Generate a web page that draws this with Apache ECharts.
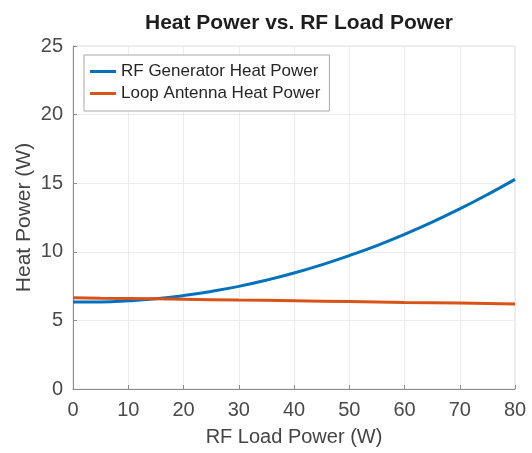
<!DOCTYPE html>
<html>
<head>
<meta charset="utf-8">
<script src="https://cdn.jsdelivr.net/npm/echarts@6/dist/echarts.min.js"></script>
<style>
  html, body { margin: 0; padding: 0; background: #fff; }
  #chart { width: 532px; height: 453px; }
</style>
</head>
<body>
<div id="chart"></div>
<script>
// RF load power (W)
const loadPower = [0, 5, 10, 15, 20, 25, 30, 35, 40, 45, 50, 55, 60, 65, 70, 75, 80];
// Heat dissipated in the RF generator (W)
const generatorHeat = [6.35, 6.35, 6.43, 6.58, 6.81, 7.11, 7.48, 7.93, 8.45, 9.05, 9.72, 10.45, 11.27, 12.16, 13.13, 14.17, 15.28];
// Heat dissipated in the loop antenna (W)
const antennaHeat = [6.65, 6.62, 6.6, 6.57, 6.54, 6.51, 6.48, 6.46, 6.43, 6.4, 6.37, 6.34, 6.31, 6.29, 6.26, 6.23, 6.2];

const seriesNames = ['RF Generator Heat Power', 'Loop Antenna Heat Power'];
const seriesColors = ['#0072BD', '#D95319'];

const pairs = (xs, ys) => xs.map((x, i) => [x, ys[i]]);

const font = 'Liberation Sans, Arial, Helvetica, sans-serif';
const chart = echarts.init(document.getElementById('chart'), null, { renderer: 'canvas' });

chart.setOption({
  animation: false,
  backgroundColor: '#ffffff',
  title: {
    text: 'Heat Power vs. RF Load Power',
    left: 294,
    textAlign: 'center',
    top: 8,
    textStyle: { fontFamily: font, fontSize: 21, fontWeight: 'bold', color: '#1e1e1e' }
  },
  grid: {
    left: 73, right: 17, top: 46, bottom: 64,
    show: true, borderColor: '#dcdcdc', borderWidth: 1, backgroundColor: 'transparent'
  },
  legend: {
    orient: 'vertical',
    left: 84, top: 55,
    backgroundColor: '#ffffff',
    borderColor: '#a8a8a8', borderWidth: 1,
    padding: [8, 9, 9, 6],
    itemGap: 5,
    itemWidth: 26, itemHeight: 3,
    icon: 'rect',
    textStyle: { fontFamily: font, fontSize: 17, color: '#262626' },
    data: seriesNames
  },
  xAxis: {
    type: 'value',
    min: 0, max: 80, interval: 10,
    name: 'RF Load Power (W)',
    nameLocation: 'middle',
    nameGap: 38,
    nameTextStyle: { fontFamily: font, fontSize: 20, color: '#444' },
    axisLine: { show: true, lineStyle: { color: '#8c8c8c', width: 1 } },
    axisTick: { show: true, inside: true, length: 4, lineStyle: { color: '#8c8c8c' } },
    axisLabel: { fontFamily: font, fontSize: 20, color: '#4a4a4a', margin: 11 },
    splitLine: { show: true, lineStyle: { color: '#ececec', width: 1 } }
  },
  yAxis: {
    type: 'value',
    min: 0, max: 25, interval: 5,
    name: 'Heat Power (W)',
    nameLocation: 'middle',
    nameGap: 38,
    nameMoveOverlap: false,
    nameTextStyle: { fontFamily: font, fontSize: 21, color: '#444' },
    axisLine: { show: true, lineStyle: { color: '#8c8c8c', width: 1 } },
    axisTick: { show: true, inside: true, length: 4, lineStyle: { color: '#8c8c8c' } },
    axisLabel: { fontFamily: font, fontSize: 20, color: '#4a4a4a', margin: 10 },
    splitLine: { show: true, lineStyle: { color: '#ececec', width: 1 } }
  },
  series: [
    {
      name: seriesNames[0],
      type: 'line',
      data: pairs(loadPower, generatorHeat),
      smooth: true,
      showSymbol: false,
      color: seriesColors[0],
      lineStyle: { width: 3, color: seriesColors[0] },
      z: 3
    },
    {
      name: seriesNames[1],
      type: 'line',
      data: pairs(loadPower, antennaHeat),
      showSymbol: false,
      color: seriesColors[1],
      lineStyle: { width: 3, color: seriesColors[1] },
      z: 4
    }
  ]
});
</script>
</body>
</html>
